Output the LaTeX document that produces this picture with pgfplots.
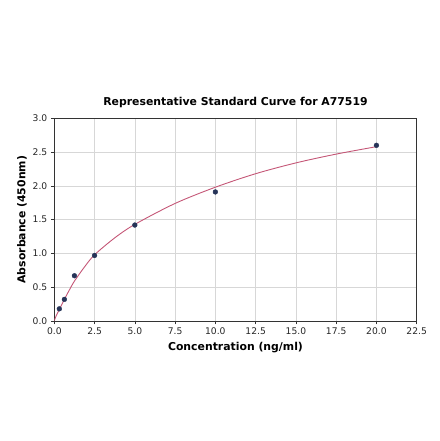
\documentclass[border=0pt]{standalone}
\usepackage{pgfplots}
\pgfplotsset{compat=1.18}
\usepackage{fontspec}
\setmainfont{DejaVu Sans}
\definecolor{curvecol}{RGB}{196,86,118}
\definecolor{ptcol}{RGB}{38,52,88}
\definecolor{gridcol}{RGB}{215,215,215}
\begin{document}
\begin{tikzpicture}
\path[use as bounding box] (0,0) rectangle (440bp,441bp);
\begin{axis}[
  at={(54.3bp,120bp)}, anchor=south west,
  scale only axis, width=362.4bp, height=202.7bp,
  xmin=0, xmax=22.5, ymin=0, ymax=3.0,
  xtick={0,2.5,...,22.5}, ytick={0,0.5,...,3.0},
  xticklabel style={/pgf/number format/.cd,fixed,fixed zerofill,precision=1,assume math mode=true},
  yticklabel style={/pgf/number format/.cd,fixed,fixed zerofill,precision=1,assume math mode=true},
  /pgf/number format/assume math mode=true,
  tick label style={font=\fontsize{9.2}{10}\selectfont, text=black!85},
  tick align=outside, tick pos=left,
  major tick length=3.5bp,
  every tick/.style={black!80, line width=0.6pt},
  grid=major, major grid style={gridcol, line width=0.6pt},
  axis line style={black!80, line width=0.7pt},
  title={\textbf{Representative Standard Curve for A77519}},
  title style={font=\fontsize{10.9}{12}\selectfont, yshift=1bp},
  xlabel={\textbf{Concentration (ng/ml)}},
  ylabel={\textbf{Absorbance (450nm)}},
  label style={font=\fontsize{10.9}{12}\selectfont},
  xlabel style={yshift=0bp},
  ylabel style={yshift=-1bp},
  clip=true,
]
\addplot[curvecol, line width=0.9pt, smooth, tension=0.5] coordinates {
(0,0) (0.05,0.037) (0.15,0.095) (0.3125,0.17) (0.625,0.32) (0.9375,0.46)
(1.25,0.59) (1.875,0.80) (2.5,0.98) (3.75,1.23) (5,1.43) (7.5,1.74)
(10,1.98) (12.5,2.18) (15,2.34) (17.5,2.47) (20,2.58)
};
\addplot[only marks, mark=*, mark size=2.4bp, ptcol] coordinates {
(0.3125,0.18) (0.625,0.32) (1.25,0.67) (2.5,0.97) (5,1.42) (10,1.91) (20,2.60)
};
\end{axis}
\end{tikzpicture}
\end{document}
